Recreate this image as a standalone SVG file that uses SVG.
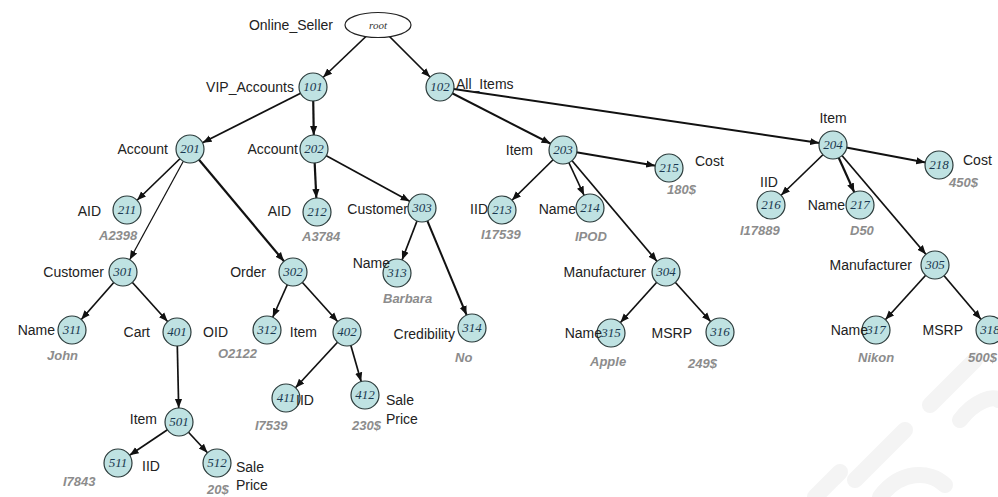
<svg xmlns="http://www.w3.org/2000/svg" width="998" height="497" viewBox="0 0 998 497">
<style>
.n{fill:#bfe2e2;stroke:#2b3a3a;stroke-width:1.2}
.id{font-family:"Liberation Serif",serif;font-style:italic;font-size:13px;fill:#1a3850;text-anchor:middle}
.l{font-family:"Liberation Sans",Arial,sans-serif;font-size:14px;fill:#222}
.e{text-anchor:end}
.m{text-anchor:middle}
.v{font-family:"Liberation Sans",Arial,sans-serif;font-size:13px;font-weight:bold;font-style:italic;fill:#8c8c8c}
.c line{stroke:#111;stroke-width:1.7;marker-end:url(#ah)}
.wm{fill:none;stroke:#f4f4f4;stroke-width:16;stroke-linecap:round}
</style>
<defs>
<marker id="ah" viewBox="0 0 10 10" markerUnits="userSpaceOnUse" markerWidth="9" markerHeight="9" refX="25.6" refY="5" orient="auto">
<path d="M0,1 L10,5 L0,9 z" fill="#111"/>
</marker>
</defs>
<rect width="998" height="497" fill="#fff"/>
<g id="watermark">
<path class="wm" d="M855,480 L905,430 M930,405 L975,360 M815,497 L840,472"/>
<path class="wm" d="M880,497 C900,470 930,470 945,485 M960,420 C975,400 995,395 998,400"/>
</g>
<g class="c" id="connectors">
<line x1="378" y1="25" x2="313" y2="87"/>
<line x1="378" y1="25" x2="440" y2="87"/>
<line x1="313" y1="87" x2="190" y2="149"/>
<line x1="313" y1="87" x2="314" y2="149" style="stroke-width:2.2"/>
<line x1="440" y1="87" x2="563" y2="150" style="stroke-width:2"/>
<line x1="440" y1="87" x2="833" y2="145" style="stroke-width:2"/>
<line x1="190" y1="149" x2="127" y2="210"/>
<line x1="190" y1="149" x2="123" y2="272" style="stroke-width:1.2"/>
<line x1="190" y1="149" x2="293" y2="272" style="stroke-width:2.2"/>
<line x1="314" y1="149" x2="317" y2="212" style="stroke-width:2.2"/>
<line x1="314" y1="149" x2="422" y2="208"/>
<line x1="563" y1="150" x2="502" y2="210"/>
<line x1="563" y1="150" x2="590" y2="208"/>
<line x1="563" y1="150" x2="669" y2="168" style="stroke-width:2"/>
<line x1="563" y1="150" x2="666" y2="272"/>
<line x1="833" y1="145" x2="771" y2="205"/>
<line x1="833" y1="145" x2="860" y2="205" style="stroke-width:2.2"/>
<line x1="833" y1="145" x2="939" y2="165" style="stroke-width:2"/>
<line x1="833" y1="145" x2="935" y2="265"/>
<line x1="123" y1="272" x2="72" y2="330"/>
<line x1="123" y1="272" x2="177" y2="332"/>
<line x1="293" y1="272" x2="267" y2="330"/>
<line x1="293" y1="272" x2="347" y2="332"/>
<line x1="422" y1="208" x2="397" y2="273"/>
<line x1="422" y1="208" x2="472" y2="328" style="stroke-width:2"/>
<line x1="666" y1="272" x2="611" y2="333"/>
<line x1="666" y1="272" x2="720" y2="332"/>
<line x1="935" y1="265" x2="876" y2="330"/>
<line x1="935" y1="265" x2="990" y2="330"/>
<line x1="177" y1="332" x2="179" y2="422"/>
<line x1="347" y1="332" x2="286" y2="398"/>
<line x1="347" y1="332" x2="365" y2="395"/>
<line x1="179" y1="422" x2="118" y2="463"/>
<line x1="179" y1="422" x2="217" y2="463"/>
</g>
<g id="root"><ellipse cx="378" cy="25" rx="33" ry="12.5" fill="#fff" stroke="#222" stroke-width="1.2"/><text class="id" x="378" y="29" style="font-size:11px;fill:#333">root</text><text class="l e" x="333" y="30">Online_Seller</text></g>
<g id="n101"><circle class="n" cx="313" cy="87" r="14"/><text class="id" x="313" y="91">101</text><text class="l e" x="294" y="92">VIP_Accounts</text></g>
<g id="n102"><circle class="n" cx="440" cy="87" r="14"/><text class="id" x="440" y="91">102</text><text class="l" x="456" y="89">All_Items</text></g>
<g id="n201"><circle class="n" cx="190" cy="149" r="14"/><text class="id" x="190" y="153">201</text><text class="l e" x="168" y="154">Account</text></g>
<g id="n202"><circle class="n" cx="314" cy="149" r="14"/><text class="id" x="314" y="153">202</text><text class="l e" x="298" y="154">Account</text></g>
<g id="n203"><circle class="n" cx="563" cy="150" r="14"/><text class="id" x="563" y="154">203</text><text class="l e" x="533" y="155">Item</text></g>
<g id="n204"><circle class="n" cx="833" cy="145" r="14"/><text class="id" x="833" y="149">204</text><text class="l m" x="833" y="123">Item</text></g>
<g id="n215"><circle class="n" cx="669" cy="168" r="14"/><text class="id" x="669" y="172">215</text><text class="l" x="695" y="166">Cost</text><text class="v" x="667" y="194">180$</text></g>
<g id="n218"><circle class="n" cx="939" cy="165" r="14"/><text class="id" x="939" y="169">218</text><text class="l" x="963" y="165">Cost</text><text class="v" x="949" y="187">450$</text></g>
<g id="n211"><circle class="n" cx="127" cy="210" r="14"/><text class="id" x="127" y="214">211</text><text class="l e" x="101" y="216">AID</text><text class="v" x="99" y="240">A2398</text></g>
<g id="n212"><circle class="n" cx="317" cy="212" r="14"/><text class="id" x="317" y="216">212</text><text class="l e" x="291" y="216">AID</text><text class="v" x="302" y="241">A3784</text></g>
<g id="n303"><circle class="n" cx="422" cy="208" r="14"/><text class="id" x="422" y="212">303</text><text class="l e" x="408" y="214">Customer</text></g>
<g id="n213"><circle class="n" cx="502" cy="210" r="14"/><text class="id" x="502" y="214">213</text><text class="l e" x="488" y="214">IID</text><text class="v" x="481" y="239">I17539</text></g>
<g id="n214"><circle class="n" cx="590" cy="208" r="14"/><text class="id" x="590" y="212">214</text><text class="l e" x="576" y="214">Name</text><text class="v" x="575" y="241">IPOD</text></g>
<g id="n216"><circle class="n" cx="771" cy="205" r="14"/><text class="id" x="771" y="209">216</text><text class="l m" x="769" y="187">IID</text><text class="v" x="740" y="235">I17889</text></g>
<g id="n217"><circle class="n" cx="860" cy="205" r="14"/><text class="id" x="860" y="209">217</text><text class="l e" x="845" y="210">Name</text><text class="v" x="850" y="235">D50</text></g>
<g id="n301"><circle class="n" cx="123" cy="272" r="14"/><text class="id" x="123" y="276">301</text><text class="l e" x="104" y="277">Customer</text></g>
<g id="n302"><circle class="n" cx="293" cy="272" r="14"/><text class="id" x="293" y="276">302</text><text class="l e" x="266" y="277">Order</text></g>
<g id="n304"><circle class="n" cx="666" cy="272" r="14"/><text class="id" x="666" y="276">304</text><text class="l e" x="646" y="277">Manufacturer</text></g>
<g id="n305"><circle class="n" cx="935" cy="265" r="14"/><text class="id" x="935" y="269">305</text><text class="l e" x="912" y="270">Manufacturer</text></g>
<g id="n313"><circle class="n" cx="397" cy="273" r="14"/><text class="id" x="397" y="277">313</text><text class="l e" x="390" y="268">Name</text><text class="v" x="383" y="303">Barbara</text></g>
<g id="n314"><circle class="n" cx="472" cy="328" r="14"/><text class="id" x="472" y="332">314</text><text class="l e" x="455" y="339">Credibility</text><text class="v" x="455" y="362">No</text></g>
<g id="n311"><circle class="n" cx="72" cy="330" r="14"/><text class="id" x="72" y="334">311</text><text class="l e" x="55" y="335">Name</text><text class="v" x="47" y="360">John</text></g>
<g id="n401"><circle class="n" cx="177" cy="332" r="14"/><text class="id" x="177" y="336">401</text><text class="l e" x="150" y="337">Cart</text></g>
<g id="n312"><circle class="n" cx="267" cy="330" r="14"/><text class="id" x="267" y="334">312</text><text class="l e" x="228" y="337">OID</text><text class="v" x="218" y="358">O2122</text></g>
<g id="n402"><circle class="n" cx="347" cy="332" r="14"/><text class="id" x="347" y="336">402</text><text class="l e" x="317" y="337">Item</text></g>
<g id="n315"><circle class="n" cx="611" cy="333" r="14"/><text class="id" x="611" y="337">315</text><text class="l e" x="602" y="338">Name</text><text class="v" x="590" y="366">Apple</text></g>
<g id="n316"><circle class="n" cx="720" cy="332" r="14"/><text class="id" x="720" y="336">316</text><text class="l e" x="692" y="338">MSRP</text><text class="v" x="688" y="368">249$</text></g>
<g id="n317"><circle class="n" cx="876" cy="330" r="14"/><text class="id" x="876" y="334">317</text><text class="l e" x="868" y="335">Name</text><text class="v" x="858" y="362">Nikon</text></g>
<g id="n318"><circle class="n" cx="990" cy="330" r="14"/><text class="id" x="990" y="334">318</text><text class="l e" x="963" y="335">MSRP</text><text class="v" x="968" y="362">500$</text></g>
<g id="n411"><circle class="n" cx="286" cy="398" r="14"/><text class="id" x="286" y="402">411</text><text class="l" x="296" y="405">IID</text><text class="v" x="255" y="430">I7539</text></g>
<g id="n412"><circle class="n" cx="365" cy="395" r="14"/><text class="id" x="365" y="399">412</text><text class="l" x="386" y="405">Sale</text><text class="l" x="386" y="424">Price</text><text class="v" x="352" y="430">230$</text></g>
<g id="n501"><circle class="n" cx="179" cy="422" r="14"/><text class="id" x="179" y="426">501</text><text class="l e" x="157" y="424">Item</text></g>
<g id="n511"><circle class="n" cx="118" cy="463" r="14"/><text class="id" x="118" y="467">511</text><text class="l" x="142" y="471">IID</text><text class="v" x="63" y="486">I7843</text></g>
<g id="n512"><circle class="n" cx="217" cy="463" r="14"/><text class="id" x="217" y="467">512</text><text class="l" x="236" y="472">Sale</text><text class="l" x="236" y="490">Price</text><text class="v" x="207" y="494">20$</text></g>
</svg>
